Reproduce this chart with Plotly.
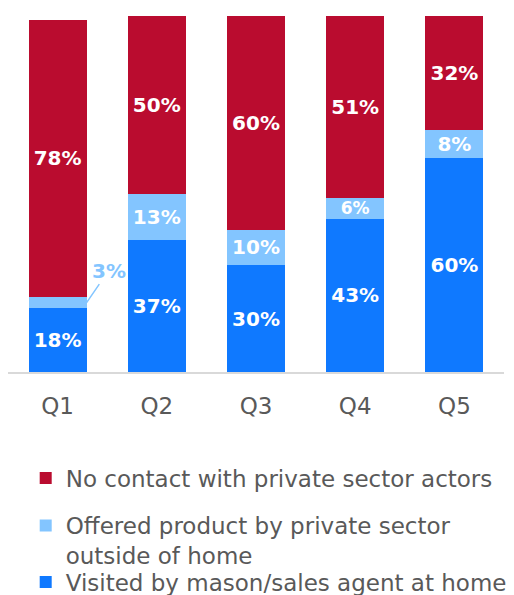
import plotly.graph_objects as go

# Wealth quintiles and share of households (%) in each contact category
quintiles = ["Q1", "Q2", "Q3", "Q4", "Q5"]
visited_home = [18, 37, 30, 43, 60]
offered_outside = [3, 13, 10, 6, 8]
no_contact = [78, 50, 60, 51, 32]

RED = "#BA0C2F"
LIGHT_BLUE = "#83C5FF"
BLUE = "#0F79FF"
GREY = "#595959"
FONT = "DejaVu Sans"


def pct(values):
    return [f"{v}%" for v in values]


# Q1's small slice is labelled outside the bar with a leader line
offered_text = pct(offered_outside)
offered_text[0] = ""
# the thin Q4 slice gets a slightly smaller label
offered_sizes = [20, 20, 20, 17, 20]

fig = go.Figure()
fig.add_trace(go.Bar(
    x=quintiles, y=visited_home, name="Visited by mason/sales agent at home",
    marker=dict(color=BLUE, line=dict(width=0)), text=pct(visited_home),
    textfont=dict(size=20), legend="legend3",
))
fig.add_trace(go.Bar(
    x=quintiles, y=offered_outside,
    name="Offered product by private sector<br>outside of home",
    marker=dict(color=LIGHT_BLUE, line=dict(width=0)), text=offered_text,
    textfont=dict(size=offered_sizes), legend="legend2",
))
fig.add_trace(go.Bar(
    x=quintiles, y=no_contact, name="No contact with private sector actors",
    marker=dict(color=RED, line=dict(width=0)), text=pct(no_contact),
    textfont=dict(size=20), legend="legend",
))
fig.update_traces(
    textposition="inside", insidetextanchor="middle", constraintext="none",
    textfont=dict(family=FONT, color="white", weight="bold"),
    hoverinfo="skip",
)

# leader line from the right edge of the Q1 bar
fig.add_annotation(
    x=quintiles[0], y=visited_home[0] + offered_outside[0] / 2,
    xref="x", yref="y", xshift=29,
    text=f"{offered_outside[0]}%", showarrow=True, arrowhead=0,
    arrowwidth=1.5, arrowcolor=LIGHT_BLUE, ax=22, ay=-32, standoff=0,
    font=dict(family=FONT, size=20, color=LIGHT_BLUE, weight="bold"),
)

legend_common = dict(
    orientation="v", xref="container", yref="container", x=0.05,
    xanchor="left", bgcolor="rgba(0,0,0,0)", valign="top",
    font=dict(family=FONT, size=23, color=GREY), itemclick=False,
)

fig.update_layout(
    width=514, height=595,
    margin=dict(l=8, r=10, t=16, b=223, autoexpand=False),
    plot_bgcolor="white", paper_bgcolor="white",
    barmode="stack", bargap=0.414,
    font=dict(family=FONT, color=GREY),
    xaxis=dict(
        showline=True, linecolor="#D9D9D9", linewidth=1.5,
        ticks="outside", ticklen=13, tickcolor="rgba(0,0,0,0)",
        tickfont=dict(family=FONT, size=23, color=GREY), tickangle=0,
        showgrid=False,
    ),
    yaxis=dict(range=[0, 100], visible=False, showgrid=False),
    legend=dict(**legend_common, y=1 - 478 / 595, yanchor="middle"),
    legend2=dict(**legend_common, y=1 - 504 / 595, yanchor="top"),
    legend3=dict(**legend_common, y=1 - 582 / 595, yanchor="middle"),
    showlegend=True,
)

fig.write_html("out.html")
